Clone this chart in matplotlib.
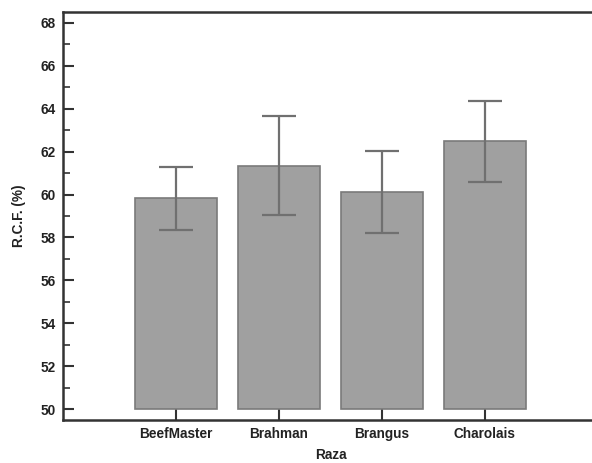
import matplotlib
matplotlib.use("Agg")
import matplotlib.pyplot as plt
from matplotlib.ticker import MultipleLocator

categories = ["BeefMaster", "Brahman", "Brangus", "Charolais"]
means = [59.83, 61.35, 60.12, 62.47]
errors = [1.46, 2.30, 1.90, 1.87]
y_ticks = [50, 52, 54, 56, 58, 60, 62, 64, 66, 68]

plt.rcParams['font.family'] = ['Liberation Sans', 'DejaVu Sans']

fig = plt.figure(figsize=(5.92, 4.63), dpi=100)
ax = fig.add_axes([63/592, 1 - 420/463, 1 - 63/592 + 0.01, (420 - 12)/463])

x = list(range(len(categories)))
base = 50
heights = [m - base for m in means]
ax.bar(x, heights, bottom=base, width=0.8, color="#a0a0a0", edgecolor="#7a7a7a",
       linewidth=1.2, zorder=2)
ax.errorbar(x, means, yerr=errors, fmt="none", ecolor="#707070", elinewidth=1.6,
            capsize=12, capthick=1.6, zorder=3)

fs = 9.8
ax.set_xlim(-1.1, 4.1)
ax.set_ylim(49.5, 68.5)
ax.set_xticks(x)
ax.set_xticklabels(categories, fontsize=fs, fontweight="bold", color="#222222")
ax.set_yticks(y_ticks)
ax.set_yticklabels([str(v) for v in y_ticks], fontsize=fs, fontweight="bold", color="#222222")
ax.yaxis.set_minor_locator(MultipleLocator(1))

ax.tick_params(axis="y", which="major", direction="in", length=8, width=1.5, color="#333333", pad=5)
ax.tick_params(axis="y", which="minor", direction="in", length=5, width=1.2, color="#333333")
ax.tick_params(axis="x", which="major", direction="in", length=9, width=1.5, color="#333333", pad=5)
ax.tick_params(axis="x", which="minor", bottom=False)

for side in ["left", "bottom", "top"]:
    ax.spines[side].set_linewidth(1.8)
    ax.spines[side].set_color("#333333")
ax.spines["right"].set_visible(False)

ax.set_xlabel("Raza", fontsize=fs, fontweight="bold", color="#222222", labelpad=5)
ax.set_ylabel("R.C.F. (%)", fontsize=fs, fontweight="bold", color="#222222", labelpad=11)

fig.savefig("out.png", dpi=100)
